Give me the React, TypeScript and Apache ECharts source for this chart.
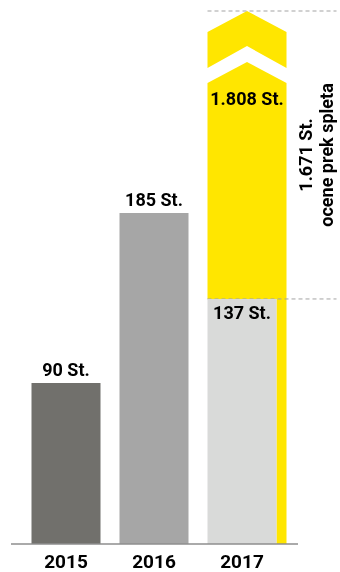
import React, { useEffect, useRef } from "react";
import * as echarts from "echarts";

const years = ["2015", "2016", "2017"];
const counts = [90, 185, 137];
const barColors = ["#71706c", "#a6a6a6", "#d9dad9"];
const total2017 = 1808;
const online2017 = 1671;
const onlineCaption = "ocene prek spleta";
const Y_MAX = 298;

const FONT = "Roboto, 'Liberation Sans', Arial, sans-serif";
const YELLOW = "#ffe600";

const fmt = (v: number) => String(v).replace(/\B(?=(\d{3})+(?!\d))/g, ".") + " St.";

export default function App() {
  const ref = useRef<HTMLDivElement>(null);
  useEffect(() => {
    if (!ref.current) return;
    const chart = echarts.init(ref.current, null, { renderer: "svg" });
    const last = years.length - 1;
    chart.setOption({
      animation: false,
      grid: { left: 22, right: 54, top: 11, bottom: 28 },
      xAxis: {
        type: "category",
        data: years,
        axisLine: { show: false },
        axisTick: { show: false },
        axisLabel: { color: "#000", fontFamily: FONT, fontWeight: "bold", fontSize: 19, margin: 8 },
      },
      yAxis: { type: "value", min: 0, max: Y_MAX, show: false, splitLine: { show: false } },
      graphic: [
        {
          type: "line",
          z: 100,
          shape: { x1: 11, y1: 544, x2: 298, y2: 544 },
          style: { stroke: "#8e8e8e", lineWidth: 1.5 },
        },
      ],
      series: [
        {
          type: "custom",
          z: 1,
          data: [[last, counts[last]]],
          renderItem: (params: any, api: any) => {
            const idx = api.value(0);
            const v = api.value(1);
            const base = api.coord([idx, 0]);
            const top = api.coord([idx, v]);
            const tip = api.coord([idx, Y_MAX]);
            const cx = base[0];
            const L = cx - 34.5;
            const R = L + 79;
            const mid = (L + R) / 2;
            const tY = tip[1];
            const bY = top[1];
            const dash = { stroke: "#a3a3a3", lineWidth: 1, lineDash: [4, 3] };
            return {
              type: "group",
              children: [
                {
                  type: "rect",
                  shape: { x: L + 69, y: bY, width: 10, height: base[1] - bY },
                  style: { fill: YELLOW },
                },
                {
                  type: "polygon",
                  shape: {
                    points: [
                      [L, tY + 72],
                      [mid, tY + 51],
                      [R, tY + 72],
                      [R, bY],
                      [L, bY],
                    ],
                  },
                  style: { fill: YELLOW },
                },
                {
                  type: "polygon",
                  shape: {
                    points: [
                      [L, tY + 21],
                      [mid, tY],
                      [R, tY + 21],
                      [R, tY + 57],
                      [mid, tY + 35],
                      [L, tY + 57],
                    ],
                  },
                  style: { fill: YELLOW },
                },
                {
                  type: "text",
                  x: mid,
                  y: tY + 87,
                  style: {
                    text: fmt(total2017),
                    fill: "#000",
                    font: `bold 18px ${FONT}`,
                    align: "center",
                    verticalAlign: "middle",
                  },
                },
                {
                  type: "text",
                  x: R + 29.5,
                  y: (tY + bY) / 2,
                  rotation: Math.PI / 2,
                  style: {
                    text: fmt(online2017) + "\n" + onlineCaption,
                    fill: "#000",
                    font: `bold 18px ${FONT}`,
                    align: "center",
                    verticalAlign: "middle",
                    lineHeight: 21,
                  },
                },
                {
                  type: "line",
                  z2: 10,
                  shape: { x1: L, y1: tY, x2: L + 129, y2: tY },
                  style: dash,
                },
                {
                  type: "line",
                  z2: 10,
                  shape: { x1: L, y1: bY, x2: L + 129, y2: bY },
                  style: dash,
                },
              ],
            };
          },
        },
        {
          type: "bar",
          z: 2,
          barWidth: 69,
          data: counts.map((v, i) => ({
            value: v,
            itemStyle: { color: barColors[i] },
            label: {
              show: true,
              position: i === last ? "insideTop" : "top",
              distance: i === last ? 5 : 5,
              formatter: fmt(v),
              color: "#000",
              fontFamily: FONT,
              fontWeight: "bold",
              fontSize: 18,
            },
          })),
        },
      ],
    });
    return () => chart.dispose();
  }, []);
  return <div ref={ref} style={{ position: "fixed", left: 0, top: 0, width: 340, height: 572 }} />;
}
